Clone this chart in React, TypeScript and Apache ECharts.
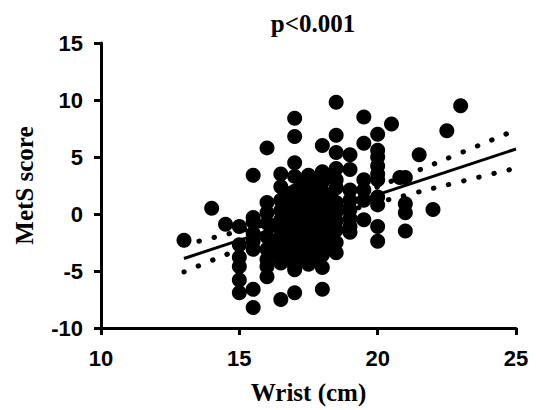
import React, { useEffect, useRef } from "react";
import * as echarts from "echarts";

// Wrist (cm) columns and the MetS scores read at each column
const wristValues = [13, 14, 14.5, 15, 15.5, 16, 16.3, 16.5, 16.8, 17, 17.3, 17.5, 17.8, 18, 18.3, 18.5, 19, 19.5, 20, 20.5, 20.8, 21, 21.5, 22, 22.5, 23];
const metsValues = [
  [-2.3],
  [0.5],
  [-0.9],
  [-1.1, -2.7, -3.8, -4.6, -5.8, -6.9],
  [3.4, -0.3, -0.7, -1.7, -2.4, -3.1, -6.6, -8.2],
  [5.8, 1.0, 0.1, -0.8, -2.0, -3.1, -4.0, -4.6, -5.5],
  [-1.0, -2.4, -3.6],
  [3.5, 2.4, 1.2, 0.3, -0.5, -1.3, -2.0, -2.8, -3.5, -4.3, -7.5],
  [1.8, 0.8, -0.2, -1.5, -2.6, -3.8],
  [8.4, 6.8, 4.5, 3.3, 2.0, 1.2, 0.5, -0.3, -1.0, -1.8, -2.5, -3.2, -3.9, -4.6, -4.9, -6.9],
  [2.6, 1.5, 0.4, -0.6, -1.4, -2.2, -3.0, -4.0],
  [3.4, 2.5, 1.6, 0.8, 0.0, -0.8, -1.6, -2.4, -3.2, -3.8, -4.4],
  [3.0, 2.0, 1.0, -0.2, -1.0, -2.0, -3.0, -3.9],
  [6.0, 3.7, 2.8, 2.0, 1.2, 0.4, -0.4, -1.2, -2.0, -2.8, -3.6, -4.7, -6.6],
  [3.3, 1.6, 0.6, -0.8, -1.8, -2.9],
  [9.8, 6.9, 5.4, 4.0, 3.0, 2.3, 1.0, 0.2, -0.6, -1.4, -2.5, -3.4],
  [5.2, 3.9, 2.1, 1.2, 0.4, -0.4, -1.1, -1.6],
  [8.5, 6.2, 3.0, 2.1, 1.2, -0.5],
  [7.0, 5.6, 5.0, 4.2, 3.5, 3.0, 1.5, 0.8, -1.1, -2.4],
  [7.9],
  [3.2],
  [3.2, 0.9, 0.1, -1.5],
  [5.2],
  [0.4],
  [7.3],
  [9.5],
];

// regression line and its confidence band
const fitX = [13, 25];
const fitY = [-3.9, 5.7];
const bandX = [13, 15, 17, 19, 21, 23, 25];
const bandUpper = [-2.7, -1.5, -0.17, 1.47, 3.37, 5.36, 7.38];
const bandLower = [-5.08, -3.1, -1.23, 0.33, 1.63, 2.84, 4.02];

const xTicks = { min: 10, max: 25, interval: 5 };
const yTicks = { min: -10, max: 15, interval: 5 };

export default function App() {
  const ref = useRef<HTMLDivElement>(null);
  useEffect(() => {
    if (!ref.current) return;
    const chart = echarts.init(ref.current, null, { renderer: "svg" });
    const points: number[][] = [];
    wristValues.forEach((x, i) => metsValues[i].forEach((y) => points.push([x, y])));
    const serif = "'Liberation Serif', 'Times New Roman', serif";
    const sans = "'Liberation Sans', Arial, sans-serif";
    const dotted = {
      type: "line",
      smooth: true,
      symbol: "none",
      lineStyle: { color: "#000", width: 5, type: [0.5, 15], cap: "round" },
      z: 3,
    };
    chart.setOption({
      animation: false,
      backgroundColor: "#fff",
      title: {
        text: "p<0.001",
        left: 308,
        top: 6,
        textAlign: "center",
        textStyle: { fontFamily: serif, fontWeight: "bold", fontSize: 25, color: "#000" },
      },
      grid: { left: 101, right: 20, top: 43, bottom: 81 },
      xAxis: {
        type: "value",
        ...xTicks,
        name: "Wrist (cm)",
        nameLocation: "middle",
        nameGap: 52,
        nameTextStyle: { fontFamily: serif, fontWeight: "bold", fontSize: 25, color: "#000" },
        axisLine: { onZero: false, lineStyle: { color: "#000", width: 3 } },
        axisTick: { length: 7, lineStyle: { color: "#000", width: 3 } },
        axisLabel: { fontFamily: sans, fontWeight: "bold", fontSize: 22, color: "#000", margin: 19 },
        splitLine: { show: false },
      },
      yAxis: {
        type: "value",
        ...yTicks,
        name: "MetS score",
        nameLocation: "middle",
        nameGap: 64,
        nameTextStyle: { fontFamily: serif, fontWeight: "bold", fontSize: 25, color: "#000" },
        axisLine: { onZero: false, lineStyle: { color: "#000", width: 3 } },
        axisTick: { length: 7, lineStyle: { color: "#000", width: 3 } },
        axisLabel: { fontFamily: sans, fontWeight: "bold", fontSize: 22, color: "#000", margin: 18 },
        splitLine: { show: false },
      },
      series: [
        {
          type: "scatter",
          data: points,
          symbolSize: 15,
          itemStyle: { color: "#000", opacity: 1 },
          z: 2,
        },
        {
          type: "line",
          data: fitX.map((x, i) => [x, fitY[i]]),
          symbol: "none",
          lineStyle: { color: "#000", width: 3 },
          z: 3,
        },
        { ...dotted, data: bandX.map((x, i) => [x, bandUpper[i]]) },
        { ...dotted, data: bandX.map((x, i) => [x, bandLower[i]]) },
      ],
    });
    return () => chart.dispose();
  }, []);
  return <div ref={ref} style={{ position: "absolute", left: 0, top: 0, width: 536, height: 410 }} />;
}
